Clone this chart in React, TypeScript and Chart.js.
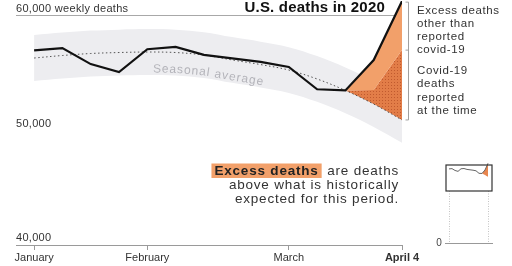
import React, { useEffect, useRef } from 'react';
import { Chart, registerables } from 'chart.js';

Chart.register(...registerables);

// ---- data (weekly U.S. deaths, 2020) ----
const weekEnding = ['Jan 4', 'Jan 11', 'Jan 18', 'Jan 25', 'Feb 1', 'Feb 8', 'Feb 15', 'Feb 22', 'Feb 29', 'Mar 7', 'Mar 14', 'Mar 21', 'Mar 28', 'Apr 4'];
const actualDeaths = [57000, 57200, 55800, 55100, 57100, 57300, 56600, 56300, 56000, 55550, 53600, 53500, 56150, 61300];
const seasonalAverage = [56330, 56550, 56725, 56810, 56855, 56810, 56590, 56160, 55760, 55280, 54500, 53500, 52310, 50920];
const bandUpper = [58330, 58550, 58725, 58810, 58855, 58810, 58590, 58160, 57760, 57280, 56500, 55500, 54310, 52920];
const bandLower = [54330, 54550, 54725, 54810, 54855, 54810, 54590, 54160, 53760, 53280, 52500, 51500, 50310, 48920];
const covidReported = [null, null, null, null, null, null, null, null, null, null, null, 0, 1230, 6100];
const tickWeeks = [0, 4, 9, 13];
const tickLabels = ['January', 'February', 'March', 'April 4'];
const yLabelValues = [60000, 50000, 40000];
const yLabelTexts = ['60,000 weekly deaths', '50,000', '40,000'];

const FONT = '"Liberation Sans", Arial, sans-serif';
const LIGHT_ORANGE = '#f2a06a';

const pts = (arr: (number | null)[]) => arr.map((v, i) => ({ x: i, y: v }));
const covidTop = covidReported.map((c, i) => (c === null ? null : seasonalAverage[i] + c));
const excessTop = covidReported.map((c, i) => (c === null ? null : actualDeaths[i]));

function makePattern(ctx: CanvasRenderingContext2D) {
  const c = document.createElement('canvas');
  c.width = 3;
  c.height = 3;
  const g = c.getContext('2d')!;
  g.fillStyle = '#e27d48';
  g.fillRect(0, 0, 3, 3);
  g.fillStyle = '#c05a2e';
  g.fillRect(1, 1, 1, 1);
  return ctx.createPattern(c, 'repeat') || '#d9703c';
}

const setSpacing = (ctx: any, v: string) => {
  if ('letterSpacing' in ctx) ctx.letterSpacing = v;
};

const overlayPlugin = {
  id: 'overlay',
  afterDatasetsDraw(chart: any) {
    const { ctx } = chart;
    const xs = chart.scales.x;
    const ys = chart.scales.y;
    const n = seasonalAverage.length;
    const curveY = (px: number) => {
      let v = xs.getValueForPixel(px);
      v = Math.max(0, Math.min(n - 1.0001, v));
      const i = Math.floor(v);
      const t = v - i;
      const a = seasonalAverage[i];
      const b = seasonalAverage[i + 1];
      return ys.getPixelForValue(a + (b - a) * t);
    };
    ctx.save();
    ctx.font = `12px ${FONT}`;
    ctx.fillStyle = '#b4b4ba';
    ctx.textAlign = 'center';
    ctx.textBaseline = 'middle';
    let x = 153;
    const text = 'Seasonal average';
    for (const ch of text) {
      const w = ctx.measureText(ch).width;
      const cx = x + w / 2;
      const ang = Math.atan2(curveY(cx + 10) - curveY(cx - 10), 20);
      ctx.save();
      ctx.translate(cx, curveY(cx) + 17);
      ctx.rotate(ang);
      ctx.fillText(ch, 0, 0);
      ctx.restore();
      x += w + 0.9;
    }
    ctx.restore();
  },
  afterDraw(chart: any) {
    const { ctx } = chart;
    const xs = chart.scales.x;
    const ys = chart.scales.y;
    ctx.save();
    // y labels
    ctx.font = `11px ${FONT}`;
    setSpacing(ctx, '0.3px');
    ctx.fillStyle = '#333';
    ctx.textAlign = 'left';
    ctx.textBaseline = 'middle';
    yLabelValues.forEach((v, i) => {
      ctx.fillText(yLabelTexts[i], chart.chartArea.left, ys.getPixelForValue(v) - 7);
    });
    // title
    setSpacing(ctx, '0.2px');
    ctx.font = `bold 15px ${FONT}`;
    ctx.fillStyle = '#111';
    ctx.textAlign = 'right';
    ctx.fillText('U.S. deaths in 2020', 385, 8);

    // bracket for the last week
    const last = actualDeaths.length - 1;
    const bx = xs.getPixelForValue(last) + 6.5;
    const yTop = ys.getPixelForValue(actualDeaths[last]) + 1;
    const yMid = ys.getPixelForValue(covidTop[last] as number);
    const yBot = ys.getPixelForValue(seasonalAverage[last]);
    ctx.strokeStyle = '#a0a0a0';
    ctx.lineWidth = 1;
    ctx.beginPath();
    ctx.moveTo(bx - 3, yTop);
    ctx.lineTo(bx, yTop);
    ctx.lineTo(bx, yBot);
    ctx.lineTo(bx - 3, yBot);
    ctx.moveTo(bx - 3, yMid);
    ctx.lineTo(bx, yMid);
    ctx.stroke();

    // legend text
    ctx.font = `11.5px ${FONT}`;
    setSpacing(ctx, '0.6px');
    ctx.fillStyle = '#333';
    ctx.textAlign = 'left';
    const block1 = ['Excess deaths', 'other than', 'reported', 'covid-19'];
    const block2 = ['Covid-19', 'deaths', 'reported', 'at the time'];
    block1.forEach((t, i) => ctx.fillText(t, 417, 11 + i * 13));
    block2.forEach((t, i) => ctx.fillText(t, 417, 71 + i * 13.3));

    // annotation
    const right = 399;
    setSpacing(ctx, '0.8px');
    ctx.font = `13.5px ${FONT}`;
    const restW = ctx.measureText(' are deaths').width;
    ctx.font = `bold 13.5px ${FONT}`;
    const boldW = ctx.measureText('Excess deaths').width;
    const startX = right - restW - boldW - 4;
    ctx.fillStyle = LIGHT_ORANGE;
    ctx.fillRect(startX - 3, 163.5, boldW + 6, 14.5);
    ctx.fillStyle = '#222';
    ctx.textAlign = 'left';
    ctx.fillText('Excess deaths', startX, 171);
    ctx.font = `13.5px ${FONT}`;
    ctx.fillStyle = '#333';
    ctx.fillText(' are deaths', startX + boldW + 4, 171);
    ctx.textAlign = 'right';
    ctx.fillText('above what is historically', right, 185);
    ctx.fillText('expected for this period.', right, 199.5);
    setSpacing(ctx, '0px');
    ctx.restore();
  },
};

const miniPlugin = {
  id: 'miniOverlay',
  afterDraw(chart: any) {
    const { ctx, chartArea } = chart;
    const xs = chart.scales.x;
    const ys = chart.scales.y;
    ctx.save();
    const y60 = ys.getPixelForValue(60000);
    const y40 = ys.getPixelForValue(40000);
    const y0 = ys.getPixelForValue(0);
    ctx.strokeStyle = '#c4c4c4';
    ctx.lineWidth = 1;
    ctx.setLineDash([1, 1.5]);
    [0, actualDeaths.length - 1].forEach((i) => {
      const px = Math.round(xs.getPixelForValue(i)) + 0.5;
      ctx.beginPath();
      ctx.moveTo(px, y40);
      ctx.lineTo(px, y0);
      ctx.stroke();
    });
    ctx.setLineDash([]);
    ctx.strokeStyle = '#999';
    ctx.beginPath();
    ctx.moveTo(chartArea.left - 1, Math.round(y0) + 0.5);
    ctx.lineTo(chartArea.right + 1, Math.round(y0) + 0.5);
    ctx.stroke();
    ctx.strokeStyle = '#333';
    ctx.lineWidth = 1.2;
    ctx.strokeRect(chartArea.left, y60, chartArea.right - chartArea.left, y40 - y60);
    ctx.font = `10px ${FONT}`;
    ctx.fillStyle = '#444';
    ctx.textAlign = 'center';
    ctx.textBaseline = 'middle';
    ctx.fillText('0', chartArea.left - 7, y0);
    ctx.restore();
  },
};

export default function App() {
  const mainRef = useRef<HTMLCanvasElement>(null);
  const miniRef = useRef<HTMLCanvasElement>(null);

  useEffect(() => {
    const mainCtx = mainRef.current!.getContext('2d')!;
    const pattern = makePattern(mainCtx);
    const main = new Chart(mainCtx, {
      type: 'line',
      data: {
        labels: weekEnding,
        datasets: [
          { label: 'Actual', data: pts(actualDeaths), borderColor: '#111', borderWidth: 2.2, tension: 0, fill: false, order: 0, pointRadius: 0 },
          { label: 'Seasonal average', data: pts(seasonalAverage), borderColor: '#555', borderWidth: 1, borderDash: [1.5, 2.5], tension: 0.35, fill: false, order: 1, pointRadius: 0 },
          { label: 'Excess other', data: pts(excessTop), borderWidth: 0, borderColor: 'rgba(0,0,0,0)', backgroundColor: LIGHT_ORANGE, fill: 3, order: 2, pointRadius: 0 },
          { label: 'Covid reported', data: pts(covidTop), borderWidth: 0, borderColor: 'rgba(0,0,0,0)', backgroundColor: pattern as any, fill: 1, order: 3, pointRadius: 0 },
          { label: 'Band upper', data: pts(bandUpper), borderWidth: 0, borderColor: 'rgba(0,0,0,0)', backgroundColor: '#ededf0', tension: 0.35, fill: 5, order: 5, pointRadius: 0 },
          { label: 'Band lower', data: pts(bandLower), borderWidth: 0, borderColor: 'rgba(0,0,0,0)', tension: 0.35, fill: false, order: 6, pointRadius: 0 },
        ],
      },
      options: {
        responsive: false,
        animation: false,
        layout: { padding: { left: 16, right: 110, top: 1, bottom: 0 } },
        plugins: { legend: { display: false }, tooltip: { enabled: false } },
        scales: {
          x: {
            type: 'linear',
            min: -0.64,
            max: 13,
            afterBuildTicks: (s: any) => {
              s.ticks = tickWeeks.map((v) => ({ value: v }));
            },
            afterFit: (s: any) => {
              s.height = 21;
            },
            grid: { drawOnChartArea: false, drawTicks: true, tickLength: 5, color: '#9a9a9a' },
            border: { display: true, color: '#9a9a9a', width: 1 },
            ticks: {
              autoSkip: false,
              maxRotation: 0,
              padding: 1,
              color: '#333',
              callback: (v: any) => tickLabels[tickWeeks.indexOf(Number(v))],
              font: (c: any) => ({ family: FONT, size: 11, weight: c.tick && c.tick.value === 13 ? 'bold' : 'normal' }),
            },
          },
          y: {
            type: 'linear',
            min: 40000,
            max: 61310,
            afterBuildTicks: (s: any) => {
              s.ticks = [{ value: 60000 }];
            },
            afterFit: (s: any) => {
              s.width = 0;
            },
            ticks: { display: false },
            grid: { color: '#a8a8a8', drawTicks: false, lineWidth: 1 },
            border: { display: false },
          },
        },
      },
      plugins: [overlayPlugin],
    });

    const mini = new Chart(miniRef.current!, {
      type: 'line',
      data: {
        labels: weekEnding,
        datasets: [
          { data: pts(actualDeaths), borderColor: '#666', borderWidth: 1, tension: 0, fill: false, order: 0, pointRadius: 0 },
          { data: pts(excessTop), borderWidth: 0, borderColor: 'rgba(0,0,0,0)', backgroundColor: '#e8864f', fill: 2, order: 1, pointRadius: 0 },
          { data: pts(seasonalAverage), borderWidth: 0, borderColor: 'rgba(0,0,0,0)', tension: 0.35, fill: false, order: 2, pointRadius: 0 },
        ],
      },
      options: {
        responsive: false,
        animation: false,
        layout: { padding: { left: 446, right: 20, top: 162.4, bottom: 23 } },
        plugins: { legend: { display: false }, tooltip: { enabled: false } },
        scales: {
          x: { type: 'linear', min: -1, max: 14.33, display: false },
          y: { type: 'linear', min: 0, max: 62000, display: false },
        },
      },
      plugins: [miniPlugin],
    });

    return () => {
      main.destroy();
      mini.destroy();
    };
  }, []);

  return (
    <div style={{ position: 'fixed', left: 0, top: 0, width: 512, height: 266, background: '#fff' }}>
      <canvas ref={mainRef} width={512} height={266} style={{ position: 'absolute', left: 0, top: 0 }} />
      <canvas ref={miniRef} width={512} height={266} style={{ position: 'absolute', left: 0, top: 0 }} />
    </div>
  );
}
